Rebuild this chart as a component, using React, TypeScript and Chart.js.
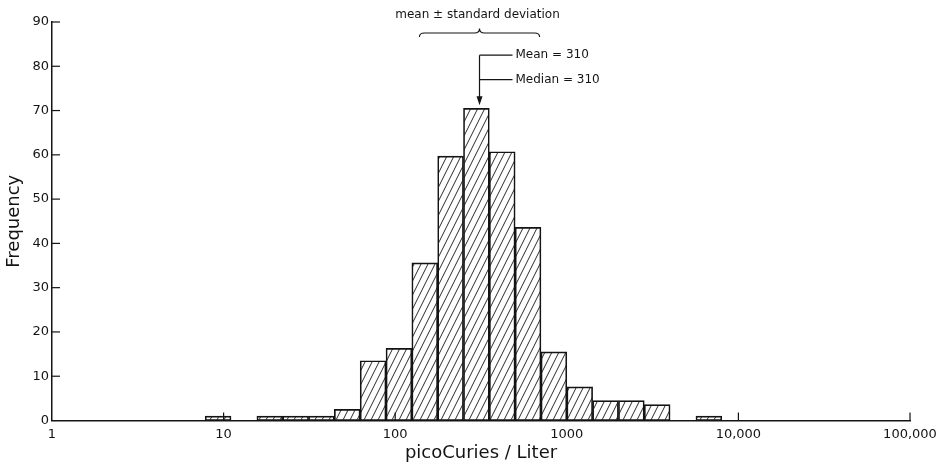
import { useEffect, useRef } from 'react';
import { Chart, registerables } from 'chart.js';

Chart.register(...registerables);

// Histogram bins: each bin spans a factor of √2 starting at its lower edge (pCi/L)
const binLowerEdges = [7.81, 15.63, 22.1, 31.25, 44.19, 62.5, 88.39, 125, 176.8, 250, 353.6, 500, 707.1, 1000, 1414, 2000, 2828, 5657];
const frequencies = [1, 1, 1, 1, 2.5, 13.5, 16.3, 35.6, 59.7, 70.5, 60.7, 43.6, 15.5, 7.6, 4.5, 4.5, 3.6, 1];
const binRatio = Math.SQRT2;

const xTickValues = [1, 10, 100, 1000, 10000, 100000];
const xTickLabels = ['1', '10', '100', '1000', '10,000', '100,000'];
const yTickValues = [0, 10, 20, 30, 40, 50, 60, 70, 80, 90];

const meanValue = 310;
const medianValue = 310;
const sdFactor = 2.24;

const ink = '#141414';
const FONT = "'DejaVu Sans', sans-serif";

const annotationPlugin = {
  id: 'radonAnnotations',
  afterDraw(chart: any) {
    const { ctx, scales } = chart;
    const x = scales.x;
    const y = scales.y;
    ctx.save();
    ctx.strokeStyle = ink;
    ctx.fillStyle = ink;
    ctx.lineWidth = 1.2;

    // inward tick marks on both axes
    xTickValues.forEach((v) => {
      if (v === xTickValues[0]) return;
      const px = x.getPixelForValue(v);
      ctx.beginPath();
      ctx.moveTo(px, y.bottom);
      ctx.lineTo(px, y.bottom - 8);
      ctx.stroke();
    });
    yTickValues.forEach((v) => {
      if (v === 0) return;
      const py = y.getPixelForValue(v);
      ctx.beginPath();
      ctx.moveTo(x.left, py);
      ctx.lineTo(x.left + 8, py);
      ctx.stroke();
    });

    // brace spanning mean ± one standard deviation
    const bl = x.getPixelForValue(meanValue / sdFactor);
    const br = x.getPixelForValue(meanValue * sdFactor);
    const bc = x.getPixelForValue(meanValue);
    const by = chart.chartArea.top + 11;
    ctx.lineWidth = 1.1;
    ctx.beginPath();
    ctx.moveTo(bl, by + 4);
    ctx.quadraticCurveTo(bl, by, bl + 5, by);
    ctx.lineTo(bc - 5, by);
    ctx.quadraticCurveTo(bc, by, bc, by - 4.5);
    ctx.quadraticCurveTo(bc, by, bc + 5, by);
    ctx.lineTo(br - 5, by);
    ctx.quadraticCurveTo(br, by, br, by + 4);
    ctx.stroke();

    ctx.font = `12px ${FONT}`;
    ctx.textAlign = 'center';
    ctx.textBaseline = 'middle';
    ctx.fillText('mean \u00B1 standard deviation', (bl + br) / 2 - 2, chart.chartArea.top - 7);

    // arrow to the mean / median bin
    const ax = x.getPixelForValue(medianValue);
    const meanY = y.getPixelForValue(82.5);
    const medianY = y.getPixelForValue(77);
    const tipY = y.getPixelForValue(Math.max(...frequencies)) - 3;
    ctx.lineWidth = 1.2;
    ctx.beginPath();
    ctx.moveTo(ax, meanY);
    ctx.lineTo(ax, tipY - 7);
    ctx.moveTo(ax, meanY);
    ctx.lineTo(ax + 33, meanY);
    ctx.moveTo(ax, medianY);
    ctx.lineTo(ax + 33, medianY);
    ctx.stroke();
    ctx.beginPath();
    ctx.moveTo(ax - 3, tipY - 9);
    ctx.lineTo(ax + 3, tipY - 9);
    ctx.lineTo(ax, tipY);
    ctx.closePath();
    ctx.fill();

    ctx.font = `12px ${FONT}`;
    ctx.textAlign = 'left';
    ctx.fillText(`Mean = ${meanValue}`, ax + 36, meanY);
    ctx.fillText(`Median = ${medianValue}`, ax + 36, medianY);
    ctx.restore();
  },
};

export default function App() {
  const canvasRef = useRef<HTMLCanvasElement | null>(null);

  useEffect(() => {
    const canvas = canvasRef.current;
    if (!canvas) return;
    const ctx = canvas.getContext('2d');
    if (!ctx) return;

    // diagonal hatching used to fill the bars
    const tile = document.createElement('canvas');
    tile.width = 7;
    tile.height = 14;
    const tctx = tile.getContext('2d')!;
    tctx.strokeStyle = ink;
    tctx.lineWidth = 0.9;
    for (const dx of [-7, 0, 7]) {
      tctx.beginPath();
      tctx.moveTo(dx, 14);
      tctx.lineTo(dx + 7, 0);
      tctx.stroke();
    }
    const hatch = ctx.createPattern(tile, 'repeat');

    const points = binLowerEdges.map((lo, i) => ({
      x: lo * Math.sqrt(binRatio),
      y: frequencies[i],
    }));

    const chart = new Chart(canvas, {
      type: 'bar',
      data: {
        datasets: [
          {
            data: points as any,
            backgroundColor: hatch as any,
            borderColor: ink,
            borderWidth: 1,
            borderSkipped: false,
            categoryPercentage: 1,
            barPercentage: 1,
          },
        ],
      },
      options: {
        animation: false,
        responsive: false,
        devicePixelRatio: 1,
        layout: { padding: { top: 22, right: 33, left: 0, bottom: 0 } },
        plugins: {
          legend: { display: false },
          tooltip: { enabled: false },
        },
        scales: {
          x: {
            type: 'logarithmic',
            min: 1,
            max: 100000,
            offset: false,
            grid: { display: false, drawTicks: false, offset: false },
            border: { display: true, color: ink, width: 1.5 },
            afterBuildTicks: (s: any) => {
              s.ticks = xTickValues.map((v) => ({ value: v }));
            },
            afterFit: (s: any) => {
              s.height = 46.5;
            },
            ticks: {
              autoSkip: false,
              maxRotation: 0,
              padding: 6,
              color: ink,
              font: { family: FONT, size: 13 },
              callback: (v: any) => {
                const i = xTickValues.indexOf(Number(v));
                return i >= 0 ? xTickLabels[i] : '';
              },
            },
            title: {
              display: true,
              text: 'picoCuries / Liter',
              color: ink,
              font: { family: FONT, size: 18 },
              padding: { top: 0, bottom: 3 },
            },
          } as any,
          y: {
            min: 0,
            max: 90,
            grid: { display: false, drawTicks: false },
            border: { display: true, color: ink, width: 1.5 },
            afterFit: (s: any) => {
              s.width = 52;
            },
            ticks: {
              stepSize: 10,
              padding: 3,
              color: ink,
              font: { family: FONT, size: 13 },
            },
            title: {
              display: true,
              text: 'Frequency',
              color: ink,
              font: { family: FONT, size: 18 },
              padding: { top: 4, bottom: 0 },
            },
          } as any,
        },
      },
      plugins: [annotationPlugin],
    });

    return () => chart.destroy();
  }, []);

  return (
    <div style={{ position: 'fixed', left: 0, top: 0, width: 943, height: 467, background: '#fff' }}>
      <canvas ref={canvasRef} width={943} height={467} style={{ display: 'block' }} />
    </div>
  );
}
